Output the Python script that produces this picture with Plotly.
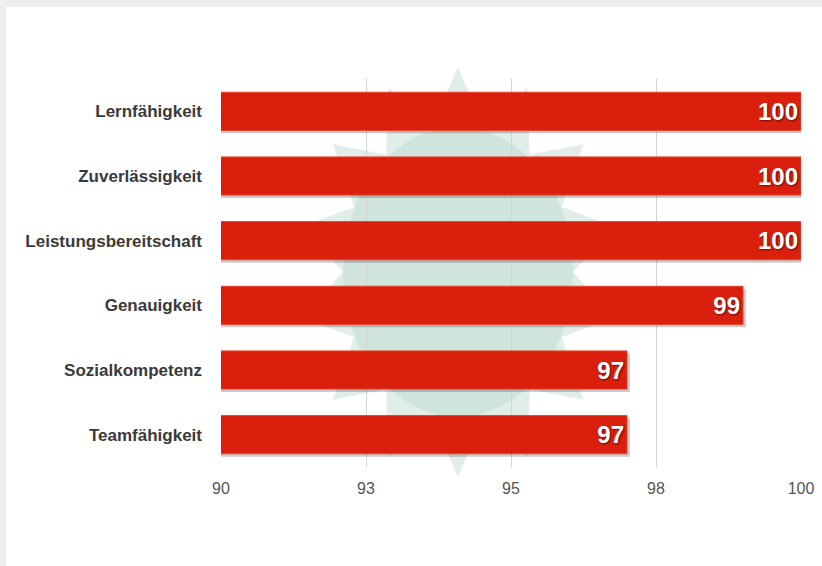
import math
import plotly.graph_objects as go

# ---- data ----
categories = ["Lernfähigkeit", "Zuverlässigkeit", "Leistungsbereitschaft",
              "Genauigkeit", "Sozialkompetenz", "Teamfähigkeit"]
values = [100, 100, 100, 99, 97, 97]
tick_values = [90, 92.5, 95, 97.5, 100]
tick_labels = ["90", "93", "95", "98", "100"]
x_range = [90, 100]

W, H = 822, 566
ML, MR, MT, MB = 221, 21, 79, 99
PW, PH = W - ML - MR, H - MT - MB

def px(x):
    return (x - ML) / PW

def py(y):
    return 1 - (y - MT) / PH

FONT = "Liberation Sans, Arial, Helvetica, sans-serif"
BAR_W = 0.59

fig = go.Figure()

# soft shadow under bars
fig.add_trace(go.Bar(
    y=categories, x=[v + 0.05 for v in values], orientation="h",
    width=BAR_W, offset=-BAR_W / 2 + 0.045,
    marker=dict(color="rgba(70,70,70,0.28)", line=dict(width=0)),
    hoverinfo="skip", showlegend=False,
))

fig.add_trace(go.Bar(
    y=categories, x=values, orientation="h",
    width=BAR_W, offset=-BAR_W / 2,
    marker=dict(color="#da1f0d", line=dict(color="#e8432f", width=1)),
    text=[str(v) for v in values], textposition="inside",
    insidetextanchor="end",
    textfont=dict(family=FONT, size=24, color="white", weight="bold",
                  shadow="1px 1px 2px rgba(0,0,0,0.55)"),
    showlegend=False,
))

shapes = []
# page frame (grey edges top/left)
shapes.append(dict(type="rect", xref="paper", yref="paper",
                   x0=px(0), x1=px(W), y0=py(0), y1=py(7),
                   fillcolor="#eeeeee", line=dict(width=0), layer="below"))
shapes.append(dict(type="rect", xref="paper", yref="paper",
                   x0=px(0), x1=px(6), y0=py(0), y1=py(H),
                   fillcolor="#efefef", line=dict(width=0), layer="below"))

# faint star-shaped watermark
cx, cy = 458, 272
pts = []
n = 14
for i in range(2 * n):
    ang = math.pi * i / n - math.pi / 2
    if i % 2 == 0:
        rx, ry = 160, 205
    else:
        rx, ry = 115, 150
    pts.append((cx + rx * math.cos(ang), cy + ry * math.sin(ang)))
path = "M " + " L ".join(f"{px(x):.4f},{py(y):.4f}" for x, y in pts) + " Z"
shapes.append(dict(type="path", xref="paper", yref="paper", path=path,
                   fillcolor="rgba(180,212,197,0.40)", line=dict(width=0),
                   layer="below"))
shapes.append(dict(type="circle", xref="paper", yref="paper",
                   x0=px(cx - 115), x1=px(cx + 115), y0=py(cy + 145), y1=py(cy - 145),
                   fillcolor="rgba(175,208,192,0.35)", line=dict(width=0),
                   layer="below"))

fig.update_layout(
    width=W, height=H,
    margin=dict(l=ML, r=MR, t=MT, b=MB, autoexpand=False),
    paper_bgcolor="white", plot_bgcolor="rgba(0,0,0,0)",
    barmode="overlay", bargap=0.4,
    shapes=shapes,
    xaxis=dict(range=x_range, tickvals=tick_values, ticktext=tick_labels,
               showgrid=True, gridcolor="#d4d4d4", gridwidth=1,
               zeroline=False, showline=False, ticks="",
               tickfont=dict(family=FONT, size=16, color="#555555"),
               ticklabelstandoff=10, fixedrange=True),
    yaxis=dict(autorange="reversed", showgrid=False, zeroline=False,
               showline=False, ticks="",
               tickfont=dict(family=FONT, size=17, color="#3a3a3a", weight="bold"),
               ticklabelstandoff=18, fixedrange=True),
    font=dict(family=FONT),
)

fig.write_html("out.html")
